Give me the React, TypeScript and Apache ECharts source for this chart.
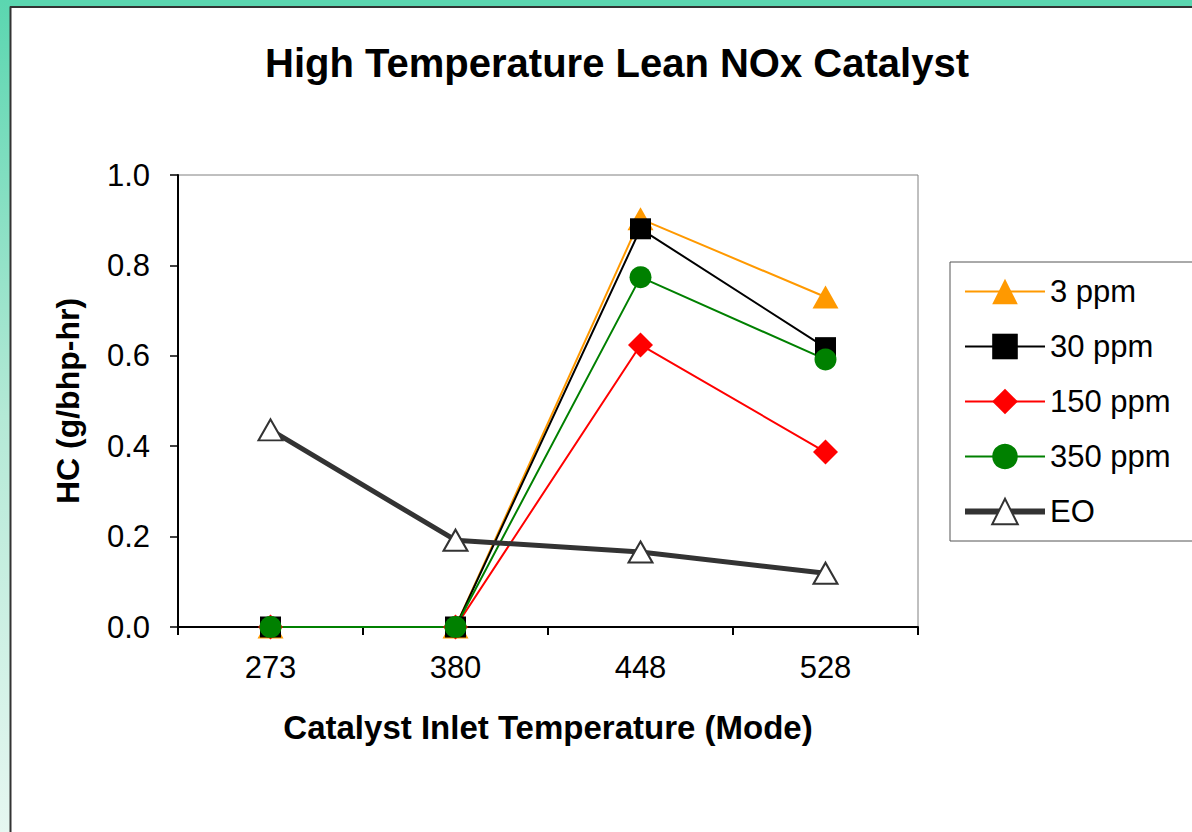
import React, { useEffect, useRef } from "react";
import * as echarts from "echarts";

// Catalyst inlet temperatures (mode points)
const temperatures = ["273", "380", "448", "528"];

// HC emissions, g/bhp-hr
const hc3ppm = [0, 0, 0.903, 0.73];
const hc30ppm = [0, 0, 0.881, 0.618];
const hc150ppm = [0, 0, 0.624, 0.387];
const hc350ppm = [0, 0, 0.774, 0.592];
const hcEO = [0.436, 0.192, 0.166, 0.119];

const yTicks = { min: 0, max: 1.0, interval: 0.2 };

const FONT = "Liberation Sans, Arial, sans-serif";

export default function App() {
  const ref = useRef<HTMLDivElement>(null);

  useEffect(() => {
    if (!ref.current) return;
    const chart = echarts.init(ref.current, undefined, { renderer: "svg" });

    const lineSeries = (
      name: string,
      data: number[],
      color: string,
      symbol: string,
      symbolSize: number | number[]
    ) => ({
      name,
      type: "line",
      data,
      symbol,
      symbolSize,
      showSymbol: true,
      lineStyle: { color, width: 2 },
      itemStyle: { color, borderWidth: 0 },
      z: 3,
    });

    chart.setOption({
      animation: false,
      backgroundColor: "#ffffff",
      textStyle: { fontFamily: FONT },
      graphic: [
        // teal frame: top band and fading left strip
        {
          type: "rect",
          shape: { x: 0, y: 0, width: 1192, height: 7 },
          style: { fill: "#5bd6b0" },
          silent: true,
          z: -10,
        },
        {
          type: "rect",
          shape: { x: 0, y: 0, width: 10, height: 832 },
          style: {
            fill: new echarts.graphic.LinearGradient(0, 0, 0, 1, [
              { offset: 0, color: "#5bd6b0" },
              { offset: 0.5, color: "#b4e9d6" },
              { offset: 1, color: "#e6f7f1" },
            ]),
          },
          silent: true,
          z: -10,
        },
        {
          type: "line",
          shape: { x1: 10.5, y1: 6.5, x2: 10.5, y2: 832 },
          style: { stroke: "#333333", lineWidth: 2 },
          silent: true,
          z: -9,
        },
        {
          type: "line",
          shape: { x1: 10, y1: 7, x2: 1192, y2: 7 },
          style: { stroke: "#333333", lineWidth: 2 },
          silent: true,
          z: -9,
        },
      ],
      title: {
        text: "High Temperature Lean NOx Catalyst",
        left: 612,
        textAlign: "center",
        top: 38,
        textStyle: {
          fontFamily: FONT,
          fontSize: 40,
          fontWeight: "bold",
          color: "#000",
        },
      },
      legend: {
        orient: "vertical",
        left: 950,
        top: 262,
        padding: [14, 40, 14, 12],
        itemWidth: 80,
        itemHeight: 32,
        itemGap: 24,
        borderColor: "#555555",
        borderWidth: 1,
        backgroundColor: "#ffffff",
        textStyle: { fontFamily: FONT, fontSize: 31, color: "#000" },
        data: [
          { name: "3 ppm" },
          { name: "30 ppm" },
          { name: "150 ppm" },
          { name: "350 ppm" },
          { name: "EO", lineStyle: { width: 6, color: "#333333" } },
        ],
      },
      grid: {
        left: 178,
        top: 175,
        width: 740,
        height: 452,
        show: true,
        borderColor: "#808080",
        borderWidth: 1,
        backgroundColor: "transparent",
      },
      xAxis: {
        type: "category",
        data: temperatures,
        boundaryGap: true,
        name: "Catalyst Inlet Temperature (Mode)",
        nameLocation: "middle",
        nameGap: 84,
        nameTextStyle: {
          fontFamily: FONT,
          fontSize: 33,
          fontWeight: "bold",
          color: "#000",
        },
        axisLine: { lineStyle: { color: "#000", width: 2 } },
        axisTick: { show: true, length: 8, lineStyle: { color: "#000", width: 2 } },
        axisLabel: { fontFamily: FONT, fontSize: 31, color: "#000", margin: 25 },
        splitLine: { show: false },
      },
      yAxis: {
        type: "value",
        min: yTicks.min,
        max: yTicks.max,
        interval: yTicks.interval,
        name: "HC (g/bhp-hr)",
        nameLocation: "middle",
        nameGap: 94,
        nameTextStyle: {
          fontFamily: FONT,
          fontSize: 32,
          fontWeight: "bold",
          color: "#000",
        },
        axisLine: { show: true, lineStyle: { color: "#000", width: 2 } },
        axisTick: { show: true, length: 8, lineStyle: { color: "#000", width: 1.5 } },
        axisLabel: {
          fontFamily: FONT,
          fontSize: 31,
          color: "#000",
          margin: 28,
          formatter: (v: number) => v.toFixed(1),
        },
        splitLine: { show: false },
      },
      series: [
        lineSeries("3 ppm", hc3ppm, "#ff9900", "triangle", [26, 23]),
        lineSeries("30 ppm", hc30ppm, "#000000", "rect", 21),
        lineSeries("150 ppm", hc150ppm, "#ff0000", "diamond", 25),
        lineSeries("350 ppm", hc350ppm, "#008000", "circle", 22),
        {
          name: "EO",
          type: "line",
          data: hcEO,
          symbol: "triangle",
          symbolSize: [24, 21],
          showSymbol: true,
          lineStyle: { color: "#333333", width: 5 },
          itemStyle: { color: "#ffffff", borderColor: "#333333", borderWidth: 2 },
          z: 4,
        },
      ],
    });

    return () => chart.dispose();
  }, []);

  return (
    <div
      style={{ position: "fixed", left: 0, top: 0, width: 1192, height: 832, background: "#fff" }}
    >
      <div ref={ref} style={{ width: 1192, height: 832 }} />
    </div>
  );
}
